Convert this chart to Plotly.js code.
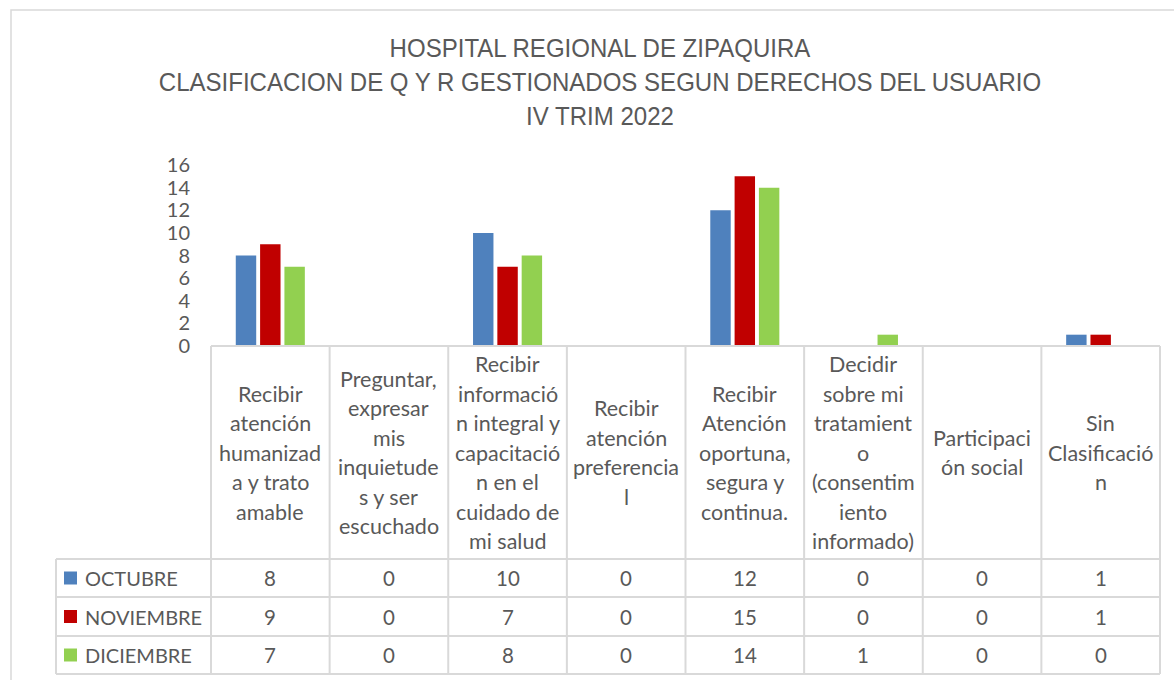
<!DOCTYPE html>
<html>
<head>
<meta charset="utf-8">
<script src="https://cdn.plot.ly/plotly-3.0.1.min.js"></script>
<style>html,body{margin:0;padding:0;background:#fff;}#chart{width:1174px;height:680px;}</style>
</head>
<body>
<div id="chart"></div>
<script>
// ---- data ----
const titleLines = ["HOSPITAL REGIONAL DE ZIPAQUIRA", "CLASIFICACION DE Q Y R GESTIONADOS SEGUN DERECHOS DEL USUARIO", "IV TRIM 2022"];
const categories = [
  "Recibir atención humanizada y trato amable",
  "Preguntar, expresar mis inquietudes y ser escuchado",
  "Recibir información integral y capacitación en el cuidado de mi salud",
  "Recibir atención preferencial",
  "Recibir Atención oportuna, segura y continua.",
  "Decidir sobre mi tratamiento (consentimiento informado)",
  "Participación social",
  "Sin Clasificación"
];
const categoryLabels = [
  "Recibir<br>atención<br>humanizad<br>a y trato<br>amable",
  "Preguntar,<br>expresar<br>mis<br>inquietude<br>s y ser<br>escuchado",
  "Recibir<br>informació<br>n integral y<br>capacitació<br>n en el<br>cuidado de<br>mi salud",
  "Recibir<br>atención<br>preferencia<br>l",
  "Recibir<br>Atención<br>oportuna,<br>segura y<br>continua.",
  "Decidir<br>sobre mi<br>tratamient<br>o<br>(consentim<br>iento<br>informado)",
  "Participaci<br>ón social",
  "Sin<br>Clasificació<br>n"
];
const seriesNames = ["OCTUBRE", "NOVIEMBRE", "DICIEMBRE"];
const octubre   = [8, 0, 10, 0, 12, 0, 0, 1];
const noviembre = [9, 0, 7, 0, 15, 0, 0, 1];
const diciembre = [7, 0, 8, 0, 14, 1, 0, 0];
const yTicks = [0, 2, 4, 6, 8, 10, 12, 14, 16];

// ---- styling / layout helpers ----
const W = 1174, H = 680;
const L = 211, R = 1160, T = 165, B = 346;
const colors = ["#4F81BD", "#C00000", "#92D050"];
const txt = "#595959";
const grid = "#D9D9D9";
const bodyFont = "Lato, 'Open Sans', sans-serif";
const px2x = p => (p - L) / (R - L);
const py2y = p => (B - p) / (B - T);

const series = [octubre, noviembre, diciembre];
const traces = series.map((vals, i) => ({
  type: "bar",
  name: seriesNames[i],
  x: categories,
  y: vals,
  marker: {color: colors[i], line: {width: 0}},
  showlegend: false,
  hoverinfo: "x+y+name"
}));

const shapes = [];
const annotations = [];
const n = categories.length;
const lineStyle = {color: grid, width: 2};

// outer chart frame
shapes.push({type: "rect", xref: "paper", yref: "paper",
  x0: px2x(11), x1: px2x(1190), y0: py2y(700), y1: py2y(10),
  line: {color: grid, width: 1.5}, fillcolor: "rgba(0,0,0,0)", layer: "below"});

// table rows (pixel positions)
const headerTop = 346, headerBottom = 559;
const rowEdges = [559, 597, 636, 674];
const legendLeft = 56;

// horizontal lines
shapes.push({type: "line", xref: "paper", yref: "paper", x0: 0, x1: 1, y0: py2y(headerTop), y1: py2y(headerTop), line: lineStyle});
rowEdges.forEach(r => shapes.push({type: "line", xref: "paper", yref: "paper",
  x0: px2x(legendLeft), x1: 1, y0: py2y(r), y1: py2y(r), line: lineStyle}));
// vertical lines
for (let k = 0; k <= n; k++) {
  shapes.push({type: "line", xref: "paper", yref: "paper", x0: k / n, x1: k / n,
    y0: py2y(headerTop), y1: py2y(rowEdges[rowEdges.length - 1]), line: lineStyle});
}
shapes.push({type: "line", xref: "paper", yref: "paper", x0: px2x(legendLeft), x1: px2x(legendLeft),
  y0: py2y(rowEdges[0]), y1: py2y(rowEdges[rowEdges.length - 1]), line: lineStyle});

// header labels (each line placed separately for Excel-like line spacing)
const lineGap = 29.5;
const headerMid = (headerTop + headerBottom) / 2;
categoryLabels.forEach((lab, i) => {
  const lines = lab.split("<br>");
  lines.forEach((ln, k) => {
    const yy = headerMid + (k - (lines.length - 1) / 2) * lineGap;
    annotations.push({xref: "paper", yref: "paper", x: (i + 0.5) / n, y: py2y(yy),
      text: ln, showarrow: false, xanchor: "center", yanchor: "middle",
      font: {family: bodyFont, size: 21.5, color: txt}});
  });
});

// data rows
series.forEach((vals, s) => {
  const yy = (rowEdges[s] + rowEdges[s + 1]) / 2;
  // legend key
  shapes.push({type: "rect", xref: "paper", yref: "paper",
    x0: px2x(64), x1: px2x(77), y0: py2y(yy + 6.5), y1: py2y(yy - 6.5),
    fillcolor: colors[s], line: {width: 0}});
  annotations.push({xref: "paper", yref: "paper", x: px2x(83), y: py2y(yy),
    text: seriesNames[s], showarrow: false, xanchor: "left", yanchor: "middle",
    font: {family: bodyFont, size: 20, color: txt}});
  vals.forEach((v, i) => {
    annotations.push({xref: "paper", yref: "paper", x: (i + 0.5) / n, y: py2y(yy),
      text: String(v), showarrow: false, xanchor: "center", yanchor: "middle",
      font: {family: bodyFont, size: 20.5, color: txt}});
  });
});

const layout = {
  width: W, height: H,
  margin: {l: L, r: W - R, t: T, b: H - B, pad: 0},
  paper_bgcolor: "#ffffff", plot_bgcolor: "#ffffff",
  title: {
    text: titleLines.join("<br>"),
    x: 600 / W, xanchor: "center", xref: "container",
    y: 1 - 57 / H, yanchor: "top", yref: "container",
    font: {family: "'Liberation Sans', Arial, sans-serif", size: 26, color: txt}
  },
  barmode: "group",
  bargap: 0.385,
  bargroupgap: 0.16,
  xaxis: {type: "category", showticklabels: false, showgrid: false, zeroline: false, showline: false, ticks: "", fixedrange: true},
  yaxis: {range: [0, 16], tickvals: yTicks, ticktext: yTicks.map(String), showgrid: false, zeroline: false,
    showline: false, ticks: "", ticklabelstandoff: 20,
    tickfont: {family: bodyFont, size: 20, color: txt}, fixedrange: true},
  shapes: shapes,
  annotations: annotations,
  showlegend: false
};

Plotly.newPlot("chart", traces, layout, {displayModeBar: false, staticPlot: true}).then(gd => {
  // emulate the condensed title face of the original (no narrow font installed)
  const t = gd.querySelector(".g-gtitle text.gtitle");
  if (t) {
    const cx = 600, sx = 0.925;
    t.setAttribute("transform", `translate(${cx * (1 - sx)},0) scale(${sx},1)`);
  }
});
</script>
</body>
</html>
